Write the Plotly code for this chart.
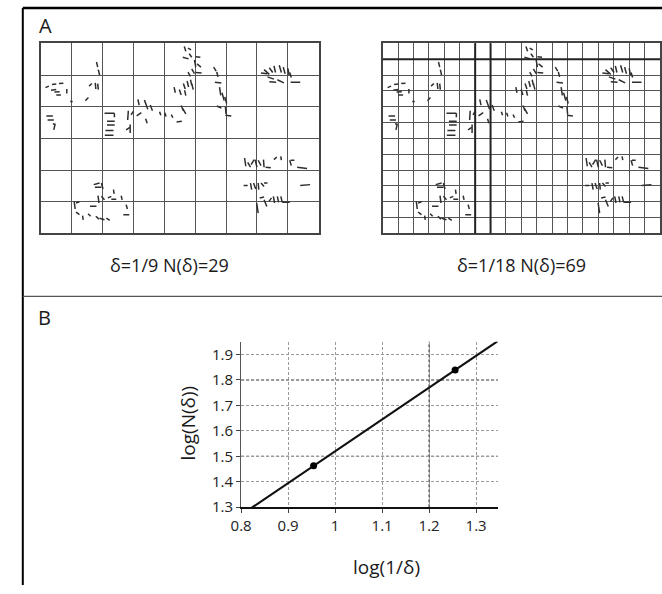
import math
import plotly.graph_objects as go

# ---------------- Panel A data ----------------
coarse_cols, coarse_rows = 9, 6          # delta = 1/9 grid
fine_cols, fine_rows = 18, 12            # delta = 1/18 grid
fine_thick_cols = [6, 7]                 # emphasised fine-grid columns lines
fine_thick_rows = [1]                    # emphasised fine-grid row lines
caption_coarse = "δ=1/9 N(δ)=29"
caption_fine = "δ=1/18 N(δ)=69"

# strokes of the pattern, in coarse-cell units: (x0, y0, x1, y1), y measured from the top
cluster_left = [(0.16, 1.40, 0.27, 1.35), (0.37, 1.30, 0.51, 1.28), (0.60, 1.27, 0.74, 1.26),
                (0.34, 1.48, 0.51, 1.46), (0.45, 1.54, 0.62, 1.53), (0.51, 1.63, 0.66, 1.63),
                (0.85, 1.44, 0.85, 1.58), (0.96, 1.84, 1.04, 1.84),
                (0.19, 2.29, 0.40, 2.29), (0.23, 2.42, 0.43, 2.42), (0.40, 2.54, 0.49, 2.56),
                (0.47, 2.56, 0.43, 2.73)]
cluster_upper = [(1.81, 0.59, 1.85, 0.75), (1.87, 0.83, 1.91, 1.00), (1.57, 1.35, 1.66, 1.27),
                 (1.77, 1.25, 1.79, 1.44), (1.85, 1.27, 1.87, 1.46), (1.45, 1.81, 1.55, 1.71)]
cluster_middle = [(2.07, 2.21, 2.39, 2.21), (2.39, 2.21, 2.39, 2.33), (2.15, 2.46, 2.40, 2.46),
                  (2.15, 2.58, 2.40, 2.58), (2.10, 2.75, 2.36, 2.75), (2.08, 2.90, 2.36, 2.90),
                  (2.84, 2.13, 2.82, 2.42), (2.93, 2.26, 3.00, 2.15), (2.77, 2.73, 2.89, 2.65),
                  (2.90, 2.56, 2.90, 2.83), (3.15, 1.77, 3.19, 1.95), (3.36, 1.79, 3.47, 2.08),
                  (3.11, 2.29, 3.26, 2.19), (3.40, 2.38, 3.45, 2.52), (3.55, 1.95, 3.62, 2.13),
                  (3.85, 2.16, 3.89, 2.27), (4.02, 2.19, 4.06, 2.31), (4.23, 2.25, 4.28, 2.35),
                  (4.40, 2.48, 4.57, 2.46), (4.55, 1.96, 4.62, 2.13), (4.60, 2.06, 4.70, 2.23)]
cluster_top = [(4.65, 0.10, 4.70, 0.25), (4.77, 0.15, 4.87, 0.21), (4.81, 0.33, 4.89, 0.44),
               (4.60, 0.44, 4.79, 0.49), (5.02, 0.42, 5.17, 0.44), (4.98, 0.52, 5.02, 0.75),
               (5.06, 0.65, 5.19, 0.75), (4.89, 0.81, 4.98, 0.96), (4.77, 0.91, 4.85, 1.04),
               (5.02, 0.92, 5.21, 0.94), (4.85, 1.15, 4.89, 1.32), (4.74, 1.19, 4.79, 1.38),
               (4.62, 1.27, 4.68, 1.44), (4.32, 1.38, 4.36, 1.56), (4.49, 1.46, 4.55, 1.63),
               (4.66, 1.48, 4.70, 1.65), (4.89, 1.27, 4.94, 1.46)]
cluster_chain = [(5.60, 0.75, 5.68, 0.88), (5.70, 0.90, 5.74, 1.06), (5.64, 1.23, 5.85, 1.25),
                 (5.79, 1.38, 5.83, 1.64), (5.87, 1.56, 5.94, 1.81), (5.96, 1.69, 6.02, 1.90),
                 (5.70, 1.98, 5.85, 2.04), (5.98, 2.00, 6.00, 2.23), (5.98, 2.27, 6.17, 2.29)]
cluster_top_right = [(7.13, 0.94, 7.34, 0.96), (7.23, 0.83, 7.40, 0.98), (7.40, 0.77, 7.51, 0.92),
                     (7.55, 0.71, 7.60, 0.92), (7.72, 0.69, 7.79, 0.92), (7.85, 0.75, 7.91, 0.96),
                     (8.00, 0.79, 8.04, 1.00), (7.40, 1.21, 7.62, 1.23), (7.66, 1.15, 7.87, 1.25),
                     (8.09, 1.23, 8.40, 1.23), (7.34, 1.06, 7.55, 1.13), (8.06, 0.92, 8.11, 1.08)]
cluster_bottom_right = [(6.60, 3.62, 6.64, 3.88), (6.70, 3.76, 6.79, 3.91), (6.81, 3.83, 6.91, 3.67),
                        (6.94, 3.67, 7.00, 3.91), (7.04, 3.69, 7.13, 3.86), (7.21, 3.67, 7.23, 3.91),
                        (7.28, 3.91, 7.45, 3.93), (7.55, 3.67, 7.64, 3.59), (7.77, 3.57, 7.79, 3.69),
                        (8.06, 3.69, 8.11, 3.86), (8.09, 3.69, 8.21, 3.69), (8.30, 3.91, 8.62, 3.95),
                        (6.57, 4.49, 6.70, 4.49), (6.79, 4.41, 6.83, 4.62), (6.89, 4.41, 6.96, 4.60),
                        (7.04, 4.41, 7.06, 4.62), (7.13, 4.41, 7.23, 4.52), (7.23, 4.41, 7.34, 4.41),
                        (8.40, 4.49, 8.72, 4.46), (6.99, 5.04, 7.04, 5.36), (7.09, 4.88, 7.23, 4.85),
                        (7.23, 4.94, 7.32, 5.15), (7.39, 4.99, 7.47, 4.88), (7.53, 4.83, 7.57, 5.04),
                        (7.66, 4.83, 7.70, 5.02), (7.77, 4.83, 7.82, 5.02), (7.82, 5.02, 8.06, 5.02)]
cluster_bottom_left = [(1.72, 4.46, 1.91, 4.41), (1.76, 4.54, 1.97, 4.54), (1.97, 4.41, 2.02, 4.60),
                       (2.36, 4.62, 2.38, 4.75), (1.86, 4.81, 1.89, 5.04), (1.97, 4.83, 2.07, 4.94),
                       (2.18, 4.88, 2.29, 4.83), (2.29, 4.92, 2.45, 4.92), (2.61, 4.81, 2.64, 4.94),
                       (1.09, 4.99, 1.12, 5.23), (1.15, 5.04, 1.26, 5.00), (1.60, 5.14, 1.81, 5.14),
                       (1.15, 5.33, 1.26, 5.41), (1.36, 5.44, 1.38, 5.57), (1.54, 5.38, 1.62, 5.46),
                       (1.79, 5.46, 1.89, 5.55), (1.91, 5.52, 2.07, 5.57), (2.13, 5.52, 2.24, 5.59),
                       (2.77, 5.09, 2.81, 5.23), (2.68, 5.41, 2.87, 5.41)]

# ---------------- Panel B data ----------------
inv_delta = [9, 18]
box_counts = [29, 69]
x_ticks = [0.8, 0.9, 1, 1.1, 1.2, 1.3]
y_ticks = [1.3, 1.4, 1.5, 1.6, 1.7, 1.8, 1.9]
emph_x = [1.2]
emph_y = [1.5, 1.8]
x_range = [0.8, 1.346]
y_range = [1.3, 1.95]

# ---------------- build ----------------
W, H = 662, 594
FONT = "Open Sans"

def px(x):
    return x / W

def py(y):
    return 1 - y / H

all_strokes = (cluster_left + cluster_upper + cluster_middle + cluster_top + cluster_chain
               + cluster_top_right + cluster_bottom_right + cluster_bottom_left)
sx, sy = [], []
for x0, y0, x1, y1 in all_strokes:
    sx += [x0, x1, None]
    sy += [y0, y1, None]

log_x = [math.log10(v) for v in inv_delta]
log_y = [math.log10(v) for v in box_counts]
slope = (log_y[1] - log_y[0]) / (log_x[1] - log_x[0])
fit_x = [x_range[0], x_range[1]]
fit_y = [log_y[0] + slope * (x - log_x[0]) for x in fit_x]

fig = go.Figure()
stroke_style = dict(color="#2e2e2e", width=1.5)
fig.add_trace(go.Scatter(x=sx, y=sy, mode="lines", line=stroke_style, xaxis="x", yaxis="y",
                         hoverinfo="skip", showlegend=False))
fig.add_trace(go.Scatter(x=sx, y=sy, mode="lines", line=stroke_style, xaxis="x2", yaxis="y2",
                         hoverinfo="skip", showlegend=False))
fig.add_trace(go.Scatter(x=fit_x, y=fit_y, mode="lines", line=dict(color="#111", width=2.2),
                         xaxis="x3", yaxis="y3", showlegend=False))
fig.add_trace(go.Scatter(x=log_x, y=log_y, mode="markers", marker=dict(color="#000", size=7),
                         xaxis="x3", yaxis="y3", showlegend=False, cliponaxis=False))

grid_common = dict(showticklabels=False, ticks="", zeroline=False, showline=True, mirror=True,
                   linecolor="#444", linewidth=1.5, showgrid=True, gridcolor="#555",
                   gridwidth=1, fixedrange=True, tick0=0)
gx_dom_a = [px(30), px(313)]
gx_dom_b = [px(378), px(660)]
gy_dom = [py(237), py(44)]

fig.update_layout(
    width=W, height=H, margin=dict(l=0, r=0, t=0, b=0),
    paper_bgcolor="white", plot_bgcolor="white", showlegend=False,
    font=dict(family=FONT, color="#222"),
    xaxis=dict(domain=gx_dom_a, range=[0, coarse_cols], dtick=1, anchor="y", **grid_common),
    yaxis=dict(domain=gy_dom, range=[coarse_rows, 0], dtick=1, anchor="x", **grid_common),
    xaxis2=dict(domain=gx_dom_b, range=[0, coarse_cols], dtick=coarse_cols / fine_cols,
                anchor="y2", **grid_common),
    yaxis2=dict(domain=gy_dom, range=[coarse_rows, 0], dtick=coarse_rows / fine_rows,
                anchor="x2", **grid_common),
    xaxis3=dict(domain=[px(234), px(495)], range=x_range, anchor="y3", tickvals=x_ticks,
                ticktext=[f"{v:g}" for v in x_ticks], ticks="outside", ticklen=4,
                tickcolor="#444", showline=True, linecolor="#111", linewidth=1.5,
                showgrid=True, gridcolor="#9a9a9a", gridwidth=1, griddash="3px,2px",
                zeroline=False, tickfont=dict(size=15, family=FONT, color="#222"),
                fixedrange=True),
    yaxis3=dict(domain=[py(515), py(347)], range=y_range, anchor="x3", tickvals=y_ticks,
                ticktext=[f"{v:g}" for v in y_ticks], ticks="outside", ticklen=4,
                tickcolor="#444", showline=True, linecolor="#555", linewidth=1.2,
                showgrid=True, gridcolor="#9a9a9a", gridwidth=1, griddash="3px,2px",
                zeroline=False, tickfont=dict(size=15, family=FONT, color="#222"),
                fixedrange=True),
)

shapes = []
# figure frame: top, left, divider
shapes.append(dict(type="line", xref="paper", yref="paper", x0=px(12), x1=1, y0=py(8), y1=py(8),
                   line=dict(color="#000", width=2.5)))
shapes.append(dict(type="line", xref="paper", yref="paper", x0=px(12), x1=px(12), y0=0, y1=py(8),
                   line=dict(color="#000", width=2)))
shapes.append(dict(type="line", xref="paper", yref="paper", x0=px(12), x1=1, y0=py(301), y1=py(301),
                   line=dict(color="#555", width=1.2)))
# emphasised lines of the fine grid
for c in fine_thick_cols:
    xv = c * coarse_cols / fine_cols
    shapes.append(dict(type="line", xref="x2", yref="y2 domain", x0=xv, x1=xv, y0=0, y1=1,
                       line=dict(color="#222", width=2)))
for r in fine_thick_rows:
    yv = r * coarse_rows / fine_rows
    shapes.append(dict(type="line", xref="x2 domain", yref="y2", x0=0, x1=1, y0=yv, y1=yv,
                       line=dict(color="#222", width=2)))
# darker grid lines in panel B
for xv in emph_x:
    shapes.append(dict(type="line", xref="x3", yref="y3 domain", x0=xv, x1=xv, y0=0, y1=1,
                       line=dict(color="#333", width=1.2, dash="3px,2px"), layer="below"))
for yv in emph_y:
    shapes.append(dict(type="line", xref="x3 domain", yref="y3", x0=0, x1=1, y0=yv, y1=yv,
                       line=dict(color="#333", width=1.2, dash="3px,2px"), layer="below"))
fig.update_layout(shapes=shapes)

annotations = [
    dict(text="A", x=px(35), y=py(26), font=dict(size=20)),
    dict(text="B", x=px(34), y=py(322), font=dict(size=20)),
    dict(text=caption_coarse, x=px(161), y=py(269), font=dict(size=18)),
    dict(text=caption_fine, x=px(519), y=py(269), font=dict(size=18)),
    dict(text="log(1/δ)", x=px(382), y=py(576), font=dict(size=19)),
    dict(text="log(N(δ))", x=px(180), y=py(430), font=dict(size=19), textangle=-90),
]
for a in annotations:
    a.update(xref="paper", yref="paper", showarrow=False, xanchor="center", yanchor="middle")
    a["font"].update(family=FONT, color="#1a1a1a")
fig.update_layout(annotations=annotations)

fig.write_html("out.html", config={"displayModeBar": False},
               post_script="document.body.style.margin='0';document.body.style.padding='0';"
                           "document.documentElement.style.overflow='hidden';")
